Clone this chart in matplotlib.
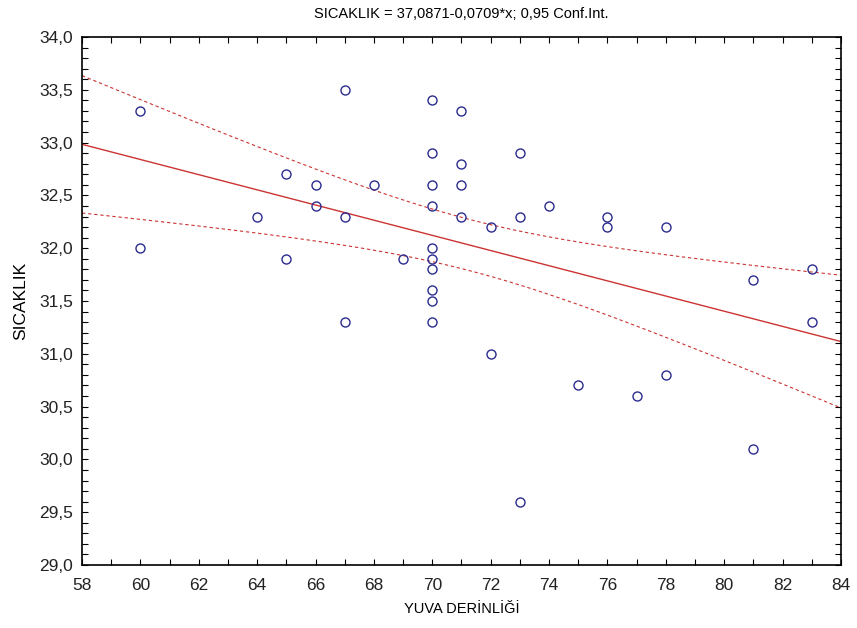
import numpy as np
import matplotlib
matplotlib.use('Agg')
import matplotlib.pyplot as plt
from matplotlib.ticker import MultipleLocator, FuncFormatter

# YUVA DERINLIGI (x) vs SICAKLIK (y)
derinlik = [60, 60, 64, 65, 65, 66, 66, 67, 67, 67, 68, 69,
            70, 70, 70, 70, 70, 70, 70, 70, 70, 70,
            71, 71, 71, 71, 72, 72, 73, 73, 73, 74, 75,
            76, 76, 77, 78, 78, 81, 81, 83, 83]
sicaklik = [33.3, 32.0, 32.3, 32.7, 31.9, 32.6, 32.4, 33.5, 32.3, 31.3, 32.6, 31.9,
            33.4, 32.9, 32.6, 32.4, 32.0, 31.9, 31.8, 31.6, 31.5, 31.3,
            33.3, 32.8, 32.6, 32.3, 32.2, 31.0, 32.9, 32.3, 29.6, 32.4, 30.7,
            32.3, 32.2, 30.6, 32.2, 30.8, 31.7, 30.1, 31.8, 31.3]

title = 'SICAKLIK = 37,0871-0,0709*x; 0,95 Conf.Int.'
xlabel = 'YUVA DERİNLİĞİ'
ylabel = 'SICAKLIK'

x = np.array(derinlik, dtype=float)
y = np.array(sicaklik, dtype=float)
n = len(x)

# linear fit + 95% confidence band for the mean
b, a = np.polyfit(x, y, 1)
resid = y - (a + b * x)
s = np.sqrt(np.sum(resid ** 2) / (n - 2))
t_crit = 2.021  # t(0.975, df=40)
xx = np.linspace(58, 84, 200)
yy = a + b * xx
se = s * np.sqrt(1.0 / n + (xx - x.mean()) ** 2 / np.sum((x - x.mean()) ** 2))

plt.rcParams['font.family'] = ['Liberation Sans', 'DejaVu Sans']

fig = plt.figure(figsize=(8.57, 6.28), dpi=100)
ax = fig.add_axes([0.0957, 0.1003, 0.8856, 0.8408])

red = '#cc3333'
ax.plot(xx, yy, color=red, linewidth=1.0)
ax.plot(xx, yy + t_crit * se, color=red, linewidth=0.8, linestyle=(0, (3, 2.5)))
ax.plot(xx, yy - t_crit * se, color=red, linewidth=0.8, linestyle=(0, (3, 2.5)))
ax.plot(x, y, linestyle='none', marker='o', markersize=6.5,
        markerfacecolor='none', markeredgecolor='#2b2b8f', markeredgewidth=1.0)

ax.set_xlim(58, 84)
ax.set_ylim(29, 34)
ax.xaxis.set_major_locator(MultipleLocator(2))
ax.xaxis.set_minor_locator(MultipleLocator(1))
ax.yaxis.set_major_locator(MultipleLocator(0.5))
ax.yaxis.set_minor_locator(MultipleLocator(0.1))
ax.yaxis.set_major_formatter(FuncFormatter(lambda v, p: ('%.1f' % v).replace('.', ',')))
ax.tick_params(which='both', direction='in', top=True, right=True, labelsize=12.5,
               labelcolor='#222222')
ax.tick_params(which='major', length=4, width=0.8)
ax.tick_params(which='minor', length=4, width=0.8)
ax.tick_params(axis='x', which='major', pad=9)
ax.tick_params(axis='y', which='major', pad=6.5)
for sp in ax.spines.values():
    sp.set_linewidth(1.2)

ax.set_title(title, fontsize=10.5, pad=14)
ax.set_xlabel(xlabel, fontsize=10.5, labelpad=7)
ax.set_ylabel(ylabel, fontsize=12.5, labelpad=8)

plt.savefig('out.png', dpi=100)
